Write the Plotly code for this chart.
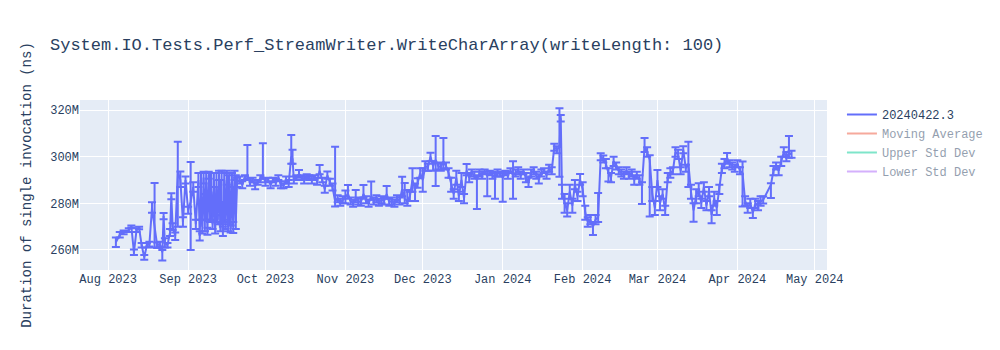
import plotly.graph_objects as go
import pandas as pd

title_text = "System.IO.Tests.Perf_StreamWriter.WriteCharArray(writeLength: 100)"
series_name = "20240422.3"
y_title = "Duration of single invocation (ns)"

dates = [
    "2023-08-04", "2023-08-05 12:00", "2023-08-07", "2023-08-09", "2023-08-10", "2023-08-11",
    "2023-08-12", "2023-08-13", "2023-08-14", "2023-08-15", "2023-08-16", "2023-08-17",
    "2023-08-18", "2023-08-19", "2023-08-20", "2023-08-21", "2023-08-22", "2023-08-22 12:00",
    "2023-08-23", "2023-08-24", "2023-08-25", "2023-08-25 12:00", "2023-08-26", "2023-08-27",
    "2023-08-28", "2023-08-29", "2023-08-30", "2023-08-31", "2023-09-01", "2023-09-02",
    "2023-09-03", "2023-09-04",
    "2023-09-05", "2023-09-05 12:00", "2023-09-06", "2023-09-06 12:00", "2023-09-07", "2023-09-07 12:00",
    "2023-09-08", "2023-09-08 12:00", "2023-09-09", "2023-09-09 12:00", "2023-09-10", "2023-09-10 12:00",
    "2023-09-11", "2023-09-11 12:00", "2023-09-12", "2023-09-12 12:00", "2023-09-13", "2023-09-13 12:00",
    "2023-09-14", "2023-09-14 12:00", "2023-09-15", "2023-09-15 12:00", "2023-09-16", "2023-09-16 12:00",
    "2023-09-17", "2023-09-17 12:00", "2023-09-18", "2023-09-18 12:00", "2023-09-19", "2023-09-19 12:00",
    "2023-09-20",
    "2023-09-21", "2023-09-22", "2023-09-23", "2023-09-24", "2023-09-25", "2023-09-26", "2023-09-27",
    "2023-09-28", "2023-09-29", "2023-09-30", "2023-10-01", "2023-10-02", "2023-10-03", "2023-10-04",
    "2023-10-05", "2023-10-06", "2023-10-07", "2023-10-08", "2023-10-09", "2023-10-10", "2023-10-11",
    "2023-10-11 12:00", "2023-10-12", "2023-10-13", "2023-10-14", "2023-10-15", "2023-10-16", "2023-10-17",
    "2023-10-18", "2023-10-19", "2023-10-20", "2023-10-21", "2023-10-22", "2023-10-23", "2023-10-24",
    "2023-10-25", "2023-10-26", "2023-10-27", "2023-10-28",
    "2023-10-29", "2023-10-30", "2023-10-31", "2023-11-01", "2023-11-02", "2023-11-03", "2023-11-04",
    "2023-11-05", "2023-11-06", "2023-11-07", "2023-11-08", "2023-11-09", "2023-11-10", "2023-11-11",
    "2023-11-12", "2023-11-13", "2023-11-14", "2023-11-15", "2023-11-16", "2023-11-17", "2023-11-18",
    "2023-11-19", "2023-11-20", "2023-11-21", "2023-11-22", "2023-11-23", "2023-11-24", "2023-11-25",
    "2023-11-26", "2023-11-27", "2023-11-28", "2023-11-29", "2023-11-30",
    "2023-12-01", "2023-12-02", "2023-12-03", "2023-12-04", "2023-12-05", "2023-12-06", "2023-12-07",
    "2023-12-08", "2023-12-09", "2023-12-10", "2023-12-11", "2023-12-12", "2023-12-13", "2023-12-14",
    "2023-12-15", "2023-12-16", "2023-12-17", "2023-12-18", "2023-12-19", "2023-12-20", "2023-12-21",
    "2023-12-22", "2023-12-23", "2023-12-24", "2023-12-25", "2023-12-26", "2023-12-27", "2023-12-28",
    "2023-12-29", "2023-12-30", "2023-12-31",
    "2024-01-01", "2024-01-02", "2024-01-03", "2024-01-04", "2024-01-05", "2024-01-06", "2024-01-07",
    "2024-01-08", "2024-01-09", "2024-01-10", "2024-01-11", "2024-01-12", "2024-01-13", "2024-01-14",
    "2024-01-15", "2024-01-16", "2024-01-17", "2024-01-18", "2024-01-19", "2024-01-20", "2024-01-21",
    "2024-01-22", "2024-01-23", "2024-01-23 12:00", "2024-01-24", "2024-01-25", "2024-01-26", "2024-01-27",
    "2024-01-28", "2024-01-29", "2024-01-30", "2024-01-31",
    "2024-02-01", "2024-02-02", "2024-02-03", "2024-02-04", "2024-02-05", "2024-02-06", "2024-02-07",
    "2024-02-08", "2024-02-09", "2024-02-10", "2024-02-11", "2024-02-12", "2024-02-13", "2024-02-14",
    "2024-02-15", "2024-02-16", "2024-02-17", "2024-02-18", "2024-02-19", "2024-02-20", "2024-02-21",
    "2024-02-22", "2024-02-23", "2024-02-24", "2024-02-25", "2024-02-26", "2024-02-27", "2024-02-28",
    "2024-02-29",
    "2024-03-01", "2024-03-02", "2024-03-03", "2024-03-04", "2024-03-05", "2024-03-06", "2024-03-07",
    "2024-03-08", "2024-03-09", "2024-03-10", "2024-03-11", "2024-03-12", "2024-03-13", "2024-03-14",
    "2024-03-15", "2024-03-16", "2024-03-17", "2024-03-18", "2024-03-19", "2024-03-20", "2024-03-21",
    "2024-03-22", "2024-03-23", "2024-03-24", "2024-03-25", "2024-03-26", "2024-03-27", "2024-03-28",
    "2024-03-29", "2024-03-30", "2024-03-31",
    "2024-04-01", "2024-04-02", "2024-04-03", "2024-04-04", "2024-04-05", "2024-04-06", "2024-04-07",
    "2024-04-08", "2024-04-09", "2024-04-10", "2024-04-11", "2024-04-14", "2024-04-15", "2024-04-16",
    "2024-04-17", "2024-04-18", "2024-04-19", "2024-04-20", "2024-04-21", "2024-04-22",
]

# values in millions of ns
values_m = [
    263.3, 266.5, 267.5, 268.5, 270.0, 259.0,
    268.5, 269.4, 262.0, 256.8, 262.0, 262.5,
    278.0, 270.0, 262.0, 262.5, 259.0, 274.5,
    263.0, 262.0, 267.5, 283.0, 270.0, 266.0,
    293.5, 290.0, 272.0, 290.0, 277.0, 280.7,
    287.0, 271.0,
    290, 266, 283, 270, 291, 272,
    289, 268, 292, 275, 285, 271,
    290, 269, 287, 273, 292, 270,
    281, 268, 290, 271, 291, 270,
    289, 269, 290, 270, 292, 272,
    289,
    290, 288, 291, 292, 289, 290, 287.5,
    289, 290.5, 292, 289, 290, 288, 290,
    289, 291, 288, 287.5, 290, 288.5, 300,
    299, 290, 291, 292.5, 291, 290, 291.5,
    291, 290, 291, 289.5, 294, 290, 286,
    292, 289, 287, 281,
    282, 280.5, 281.5, 283, 284, 281, 280,
    282, 281, 280.5, 284, 281.5, 280, 283,
    281, 282, 280.5, 281.5, 281, 284, 280.5,
    281, 280, 282, 281, 286, 282, 281,
    283, 290, 286, 288.7, 293,
    290, 296, 295.5, 300, 296, 298.6, 296,
    295.5, 298, 296, 293, 288, 284, 291,
    283, 290, 282, 294, 291, 293, 292,
    290, 293, 292, 293.5, 292, 293, 292,
    291, 293, 292.5,
    291, 293, 292, 294, 292, 293, 294,
    292, 293.5, 291, 289, 293, 294, 292,
    290.5, 293, 294, 292, 295, 294, 304,
    303, 304, 316.5, 285, 280, 277, 285,
    279, 288, 283, 290,
    286, 276, 272, 273, 270, 273, 274,
    300, 299, 297, 293, 291, 298, 296,
    294, 293, 292, 294, 292, 293, 290,
    292, 290, 288, 304, 302, 298.6, 284,
    278,
    290, 280, 284, 277, 291, 293, 294,
    302, 301, 294, 303, 295, 297, 285,
    277, 283, 286, 280, 287, 279, 285,
    275, 282, 278, 286, 295, 297, 299,
    297, 296, 295,
    297, 294, 293, 281, 278, 280, 276,
    280, 279, 281, 281.4, 288, 294, 296,
    294, 298, 302, 300, 301.5, 301,
]

err_plus_m = [
    2.0, 1.2, 0.8, 0.8, 0.5, 1.2,
    0.8, 0.5, 1.0, 1.0, 1.0, 1.0,
    2.5, 18.7, 1.2, 1.0, 1.0, 1.3,
    2.0, 1.0, 1.5, 1.3, 1.5, 1.5,
    12.9, 3.6, 2.0, 1.5, 1.5, 17.0,
    2.0, 2.0,
    3, 2, 10, 3, 2.5, 12,
    4, 1.5, 1.5, 18, 8, 2,
    3, 13, 6, 2, 2, 20,
    13, 2, 3, 2, 3, 22,
    4, 1.5, 3, 2, 2, 20,
    2,
    1.5, 1.5, 1, 13, 1.5, 1, 1.5,
    1, 1.5, 13.7, 1.5, 1, 1.5, 1,
    1.5, 1, 1.5, 1, 1.5, 1.5, 9.3,
    4, 1.5, 1, 1.8, 1, 1.5, 1,
    1, 1.5, 1, 1.5, 2.4, 1, 1.5,
    1.6, 1.5, 1.5, 23.3,
    1.5, 1.5, 1.5, 2.5, 3.9, 1.5, 1.5,
    3.7, 1.5, 1.5, 3.9, 1.5, 1.5, 6.3,
    1.5, 1.5, 1.5, 1.5, 1.5, 3.4, 1.5,
    1.5, 1.5, 1.5, 1.5, 5.4, 6.7, 4.7,
    2, 5, 2.5, 2, 2,
    5, 2, 1.5, 1.7, 2, 10.3, 1.5,
    1.5, 10, 1.5, 2, 3, 2, 3,
    2, 3, 2, 2.9, 2, 1.5, 1.5,
    2, 1.5, 1.5, 1, 1.5, 1, 1.5,
    2, 1.5, 1,
    2, 1, 1.5, 1, 6, 1.5, 1.5,
    1.5, 1, 2, 2, 1.5, 1.5, 1.5,
    2, 1.5, 1, 1.5, 1.5, 1.5, 1.5,
    1.5, 16.8, 1.4, 3, 4, 3, 3,
    3, 2, 2, 2.6,
    3, 3, 2, 2, 2, 2, 10.4,
    1.5, 1.5, 2, 2, 2, 2, 1.5,
    1.5, 1.5, 1.5, 1.5, 1.5, 1.5, 2,
    1.5, 2, 1, 4, 2, 2, 3,
    3,
    4.3, 3, 2, 2, 2, 2, 1.5,
    2, 2, 1.5, 1.5, 1.5, 9.4, 3,
    3, 3, 2.6, 2, 2, 2, 2,
    2, 3, 3, 2, 2, 2, 2.6,
    1.5, 1.5, 1.5,
    1.5, 1.5, 4.9, 2, 2, 2, 2,
    2, 2, 2, 1.5, 0.6, 2, 1.5,
    2, 2, 2, 2, 7.4, 1.5,
]

err_minus_m = [
    2.0, 1.2, 0.8, 0.8, 0.5, 1.2,
    0.8, 0.5, 1.0, 1.0, 1.0, 1.0,
    2.0, 9.0, 1.2, 1.0, 3.5, 1.3,
    2.0, 1.0, 1.5, 1.3, 1.5, 1.7,
    23.5, 3.0, 2.0, 1.5, 1.5, 20.7,
    2.0, 2.0,
    3, 2, 10, 3, 2.5, 4,
    16, 1.5, 1.5, 3, 12, 2,
    3, 2, 15, 2, 2, 2,
    10, 2, 18, 2, 3, 2,
    18, 1.5, 3, 2.7, 2, 3,
    2,
    1.5, 1.5, 1, 1.5, 1.5, 1, 1.5,
    1, 1.5, 1.5, 1.5, 1, 1.5, 1,
    1.5, 1, 1.5, 1, 1.5, 1.5, 3,
    2, 1.5, 1, 1.5, 1, 1.5, 1,
    1, 1.5, 1, 1.5, 1.5, 1, 1.5,
    1.5, 1.5, 1.5, 2.4,
    1.5, 1.5, 1.5, 3, 2, 1.5, 1.5,
    1.5, 1.5, 1.5, 1.5, 1.5, 1.5, 1.5,
    1.5, 1.5, 1.5, 1.5, 1.5, 2, 1.5,
    1.5, 1.5, 1.5, 1.5, 3, 2, 2,
    2, 5, 5, 2, 2,
    5, 2, 1.5, 2, 2, 11.2, 1.5,
    1.5, 3, 1.5, 2, 3, 2, 3,
    2, 3, 2, 2, 2, 1.5, 1.5,
    12.4, 1.5, 1.5, 1, 9, 1, 1.5,
    9, 1.5, 1,
    10.3, 1, 1.5, 1, 10, 1.5, 1.5,
    1.5, 1, 2, 2, 1.5, 1.5, 1.5,
    2, 1.5, 1, 1.5, 1.5, 1.5, 1.5,
    1.5, 12.6, 1.4, 3, 4, 2.7, 3,
    3, 2, 2, 2,
    3, 3, 2, 2, 3.6, 2, 2,
    1.5, 1.5, 2, 3.7, 2, 2, 1.5,
    1.5, 1.5, 1.5, 1.5, 1.5, 1.5, 2,
    1.5, 2, 8.3, 2, 2, 24.3, 3,
    3,
    3, 3, 2, 2, 2, 2, 1.5,
    2, 2, 1.5, 1.5, 1.5, 10, 3,
    4.9, 3, 3, 2, 2, 2, 2,
    3.6, 3, 3, 2, 2, 2, 2,
    1.5, 1.5, 1.5,
    1.5, 1.5, 14.4, 2, 2, 2, 2.3,
    2, 2, 2, 1.5, 5.7, 2, 1.5,
    2, 2, 2, 2, 2, 1.5,
]

x_range = ["2023-07-21 02:00", "2024-05-05 18:00"]
y_range_m = [251.4, 324.3]

x = pd.to_datetime(dates, format="mixed")
y = [v * 1e6 for v in values_m]
ep = [v * 1e6 for v in err_plus_m]
em = [v * 1e6 for v in err_minus_m]

s = pd.Series(y, index=x)
mov = s.rolling(10, min_periods=1).mean()
std = s.rolling(10, min_periods=1).std().fillna(0)

fig = go.Figure()
fig.add_trace(go.Scatter(
    x=x, y=y, mode="lines", name=series_name,
    error_y=dict(type="data", symmetric=False, array=ep, arrayminus=em),
))
fig.add_trace(go.Scatter(x=x, y=mov.values, mode="lines", name="Moving Average", visible="legendonly"))
fig.add_trace(go.Scatter(x=x, y=(mov + 2 * std).values, mode="lines", name="Upper Std Dev", visible="legendonly"))
fig.add_trace(go.Scatter(x=x, y=(mov - 2 * std).values, mode="lines", name="Lower Std Dev", visible="legendonly"))

fig.update_layout(
    width=1000, height=350,
    font=dict(family="Courier New, Liberation Mono, monospace"),
    title=dict(text=title_text),
    yaxis=dict(title=dict(text=y_title), range=[v * 1e6 for v in y_range_m]),
    xaxis=dict(range=x_range),
)

fig.write_html("out.html")
